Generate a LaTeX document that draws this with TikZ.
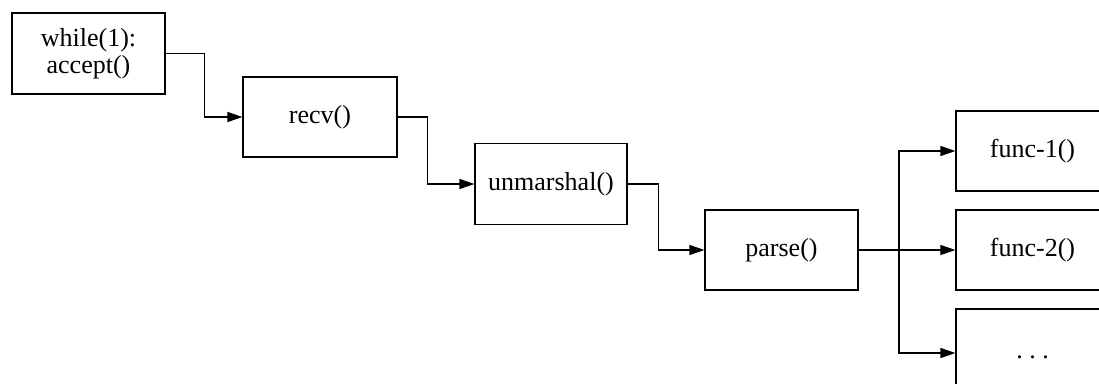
\documentclass[tikz,border=0pt]{standalone}
\usepackage{fontspec}
\setmainfont{Liberation Serif}
\usetikzlibrary{arrows.meta}
\tikzset{
  box/.style={draw, line width=1.2pt, rectangle, inner sep=0pt, minimum width=153pt, minimum height=80pt, align=center, font=\fontsize{26}{27}\selectfont},
  conn/.style={draw, line width=1.2pt, -{Triangle[length=15pt,width=10pt]}},
}
\begin{document}
\begin{tikzpicture}[x=1pt,y=-1pt]
\useasboundingbox (0,0) rectangle (1099,383);
\clip (0,0) rectangle (1099,383);
\node[box, minimum height=81pt] (b1) at (88.5,53.5) {while(1):\\accept()};
\node[box, minimum width=154pt] (b2) at (320,117) {recv()};
\node[box, minimum width=152pt, minimum height=81pt] (b3) at (551,184) {unmarshal()};
\node[box] (b4) at (781.5,250) {parse()};
\node[box] (f1) at (1032.5,151) {func-1()};
\node[box] (f2) at (1032.5,250) {func-2()};
\node[box, minimum height=88pt, text height=10pt, text depth=0pt] (f3) at (1032.5,353) {.\ .\ .};
\draw[conn] (b1.east) -- ++(39,0) |- (b2.west);
\draw[conn] (b2.east) -- ++(30,0) |- (b3.west);
\draw[conn] (b3.east) -- ++(31,0) |- (b4.west);
\coordinate (split) at (899,250);
\draw[conn] (b4.east) -- (f2.west);
\draw[conn] (split) |- (f1.west);
\draw[conn] (split) |- (f3.west);
\end{tikzpicture}
\end{document}
